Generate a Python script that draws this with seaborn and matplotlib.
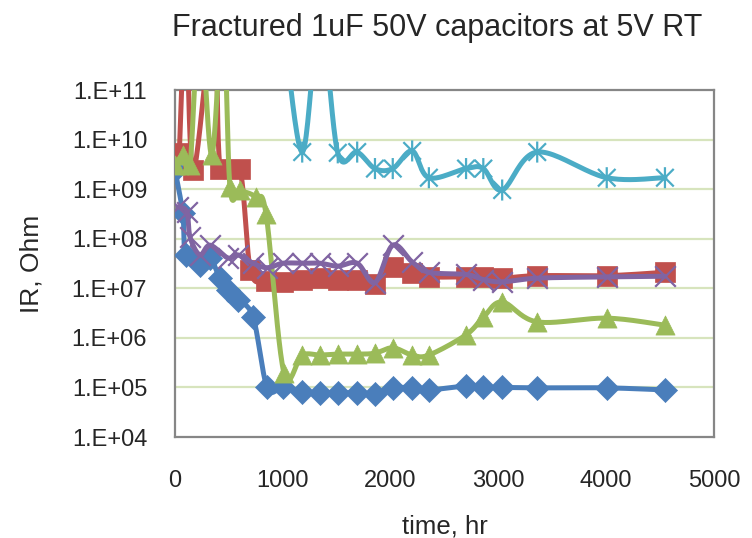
import numpy as np
import pandas as pd
import matplotlib
matplotlib.use("Agg")
import matplotlib.pyplot as plt
import seaborn as sns
from matplotlib.path import Path
from matplotlib.ticker import FixedLocator, FixedFormatter, LogLocator, NullFormatter

# ---------------- data ----------------
title = "Fractured 1uF 50V capacitors at 5V RT"
x_label = "time, hr"
y_label = "IR, Ohm"
x_ticks = [0, 1000, 2000, 3000, 4000, 5000]
y_ticks = [1e4, 1e5, 1e6, 1e7, 1e8, 1e9, 1e10, 1e11]
y_tick_labels = ["1.E+04", "1.E+05", "1.E+06", "1.E+07", "1.E+08", "1.E+09", "1.E+10", "1.E+11"]

blue_t = [0, 72, 100, 230, 325, 415, 490, 585, 725, 855, 1000, 1180, 1345, 1510, 1690,
          1855, 2020, 2200, 2355, 2700, 2860, 3035, 3360, 4005, 4545]
blue_v = [2.4e9, 3.3e8, 4.7e7, 3.0e7, 4.1e7, 1.6e7, 9.3e6, 5.8e6, 2.6e6, 1.0e5, 1.0e5,
          8.1e4, 7.8e4, 7.8e4, 7.8e4, 7.4e4, 9.8e4, 9.8e4, 8.9e4, 1.07e5, 1.0e5, 1.0e5,
          9.8e4, 9.8e4, 8.9e4]

red_t = [40, 100, 170, 360, 420, 600, 700, 840, 1000, 1180, 1345, 1510, 1690, 1855,
         2020, 2200, 2355, 2700, 2860, 3035, 3360, 4005, 4545]
red_v = [5.4e9, 3e12, 2.4e9, 3e12, 2.6e9, 2.6e9, 2.3e7, 1.4e7, 1.35e7, 1.5e7,
         1.6e7, 1.5e7, 1.5e7, 1.2e7, 2.7e7, 2.0e7, 1.7e7, 1.7e7, 1.7e7, 1.6e7, 1.8e7,
         1.8e7, 2.1e7]

green_t = [0, 74, 140, 230, 340, 445, 510, 600, 750, 845, 1010, 1180, 1345, 1510, 1690,
           1855, 2020, 2200, 2355, 2700, 2860, 3035, 3360, 4005, 4545]
green_v = [3.0e9, 4.9e9, 3.1e9, 3e12, 4.9e9, 3e12, 1.1e9, 9.5e8, 6.9e8, 3.1e8, 2.0e5,
           4.5e5, 4.5e5, 4.7e5, 4.7e5, 4.9e5, 6.3e5, 4.5e5, 4.5e5, 1.15e6, 2.6e6, 5.3e6,
           2.1e6, 2.5e6, 1.8e6]

cyan_t = [1000, 1180, 1345, 1510, 1690, 1855, 2020, 2200, 2355, 2700, 2860, 3035, 3360,
          4005, 4545]
cyan_v = [3e12, 5.6e9, 3e12, 5.4e9, 5.6e9, 2.6e9, 2.6e9, 5.9e9, 1.7e9, 2.6e9, 2.6e9,
          9.6e8, 5.6e9, 1.7e9, 1.7e9]

purple_t = [30, 110, 140, 230, 325, 490, 585, 725, 855, 1000, 1180, 1345, 1510, 1690,
            1855, 2020, 2200, 2355, 2700, 2860, 3035, 3360, 4005, 4545]
purple_v = [4.4e8, 3.5e8, 1.07e8, 4.7e7, 7.4e7, 4.1e7, 4.7e7, 3.2e7, 2.6e7, 3.2e7,
            3.2e7, 3.2e7, 2.8e7, 3.2e7, 1.3e7, 7.4e7, 3.4e7, 2.1e7, 1.9e7, 1.5e7,
            1.35e7, 1.6e7, 1.7e7, 1.75e7]

# ---------------- styling ----------------
FONT = ["Liberation Sans", "DejaVu Sans"]
sns.set_theme(style="white")
plt.rcParams["font.family"] = FONT

colors = {"blue": "#4A7EBB", "red": "#C0504D", "green": "#9BBB59",
          "cyan": "#4BACC6", "purple": "#8064A2"}

star = Path([(-1, -1), (1, 1), (-1, 1), (1, -1), (0, -1.2), (0, 1.2)],
            [Path.MOVETO, Path.LINETO, Path.MOVETO, Path.LINETO, Path.MOVETO, Path.LINETO])


def smooth(t, v, n=24):
    """Excel-like smoothed line: Catmull-Rom Bezier in (t, log10 v)."""
    P = np.column_stack([np.asarray(t, float), np.log10(np.asarray(v, float))])
    xs, ys = [], []
    m = len(P)
    for i in range(m - 1):
        p0 = P[i - 1] if i > 0 else P[i]
        p1, p2 = P[i], P[i + 1]
        p3 = P[i + 2] if i + 2 < m else P[i + 1]
        b1 = p1 + (p2 - p0) / 6.0
        b2 = p2 - (p3 - p1) / 6.0
        s = np.linspace(0, 1, n)[:, None]
        c = ((1 - s) ** 3) * p1 + 3 * ((1 - s) ** 2) * s * b1 + 3 * (1 - s) * s ** 2 * b2 + s ** 3 * p2
        xs.append(c[:, 0]); ys.append(c[:, 1])
    return np.concatenate(xs), 10 ** np.concatenate(ys)


fig = plt.figure(figsize=(7.52, 5.38), dpi=100)
ax = fig.add_axes([175 / 752, 1 - 437 / 538, (714 - 175) / 752, (437 - 90) / 538])

# name, times, values, marker, size, kind
series = [
    ("blue", blue_t, blue_v, "D", 150, "filled"),
    ("red", red_t, red_v, "s", 190, "filled"),
    ("green", green_t, green_v, "^", 190, "filled"),
    ("cyan", cyan_t, cyan_v, star, 230, "path"),
    ("purple", purple_t, purple_v, "x", 220, "x"),
]

for k, (name, t, v, mk, ms, kind) in enumerate(series):
    col = colors[name]
    sx, sy = smooth(t, v)
    df_line = pd.DataFrame({"t": sx, "v": sy})
    sns.lineplot(data=df_line, x="t", y="v", ax=ax, sort=False, estimator=None,
                 color=col, lw=3.6, zorder=3 + 2 * k, solid_capstyle="round")
    df_pts = pd.DataFrame({"t": t, "v": v})
    if kind == "filled":
        sns.scatterplot(data=df_pts, x="t", y="v", ax=ax, marker=mk, s=ms, color=col,
                        edgecolor=col, linewidth=0.5, zorder=4 + 2 * k)
    elif kind == "path":
        sns.scatterplot(data=df_pts, x="t", y="v", ax=ax, marker=mk, s=ms,
                        facecolor="none", edgecolor=col, linewidth=1.6,
                        zorder=4 + 2 * k)
    else:
        sns.scatterplot(data=df_pts, x="t", y="v", ax=ax, marker=mk, s=ms, color=col,
                        linewidth=1.6, zorder=4 + 2 * k)

ax.set_yscale("log")
ax.set_xlim(0, 5000)
ax.set_ylim(1e4, 1e11)
ax.yaxis.set_major_locator(FixedLocator(y_ticks))
ax.yaxis.set_major_formatter(FixedFormatter(y_tick_labels))
ax.yaxis.set_minor_locator(LogLocator(base=10, subs=np.arange(2, 10)))
ax.yaxis.set_minor_formatter(NullFormatter())
ax.set_xticks(x_ticks)
ax.set_xticklabels([str(x) for x in x_ticks])

for yv in y_ticks[1:-1]:
    ax.axhline(yv, color="#D7E4BD", lw=1.6, zorder=1)

for sp in ax.spines.values():
    sp.set_color("#868686")
    sp.set_linewidth(1.6)
    sp.set_visible(True)

ax.tick_params(axis="x", direction="in", length=5, width=1, color="#868686",
               labelsize=17, pad=24, top=False)
ax.tick_params(axis="y", which="major", direction="in", length=5, width=1.2,
               color="#868686", labelsize=17, pad=20)
ax.tick_params(axis="y", which="minor", direction="in", length=4, width=1,
               color="#868686", left=True)

ax.set_xlabel(x_label, fontsize=18.5, labelpad=16)
ax.set_ylabel(y_label, fontsize=19, labelpad=20)
fig.text(437 / 752, 1 - 28 / 538, title, ha="center", va="center", fontsize=22)

fig.savefig("out.png", dpi=100)
